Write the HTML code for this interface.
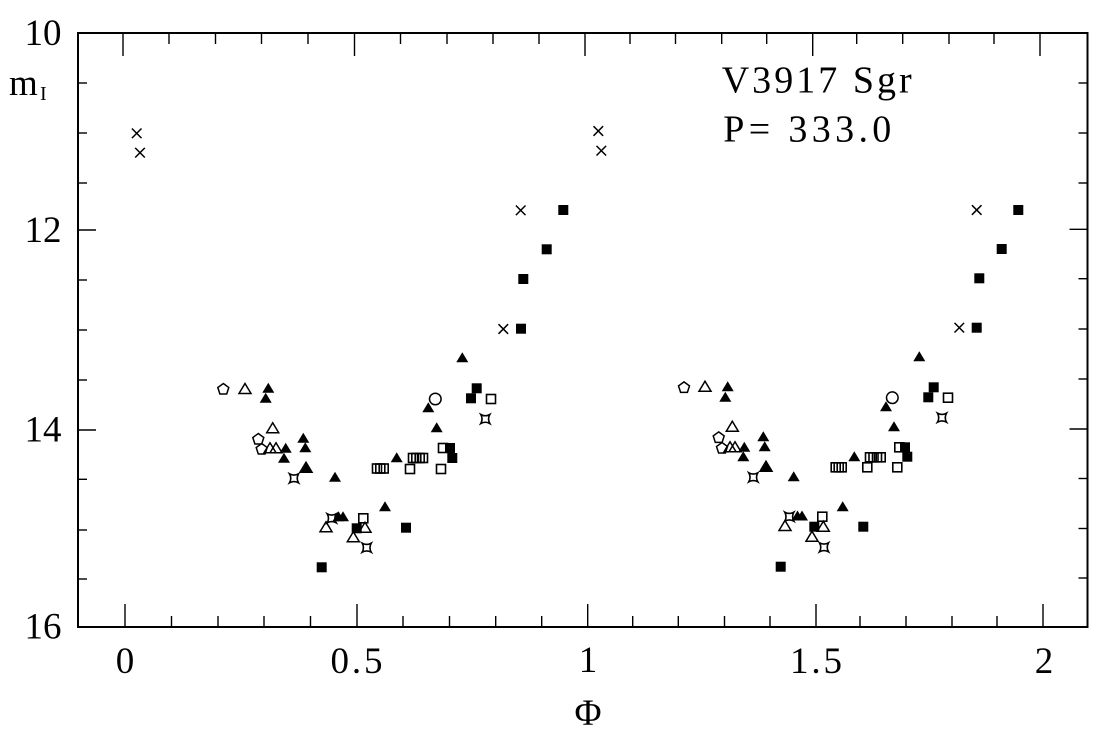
<!DOCTYPE html>
<html><head><meta charset="utf-8"><style>
html,body{margin:0;padding:0;background:#fff;}
svg{display:block;}
text{font-family:"Liberation Serif",serif;fill:#000;}
</style></head><body>
<svg width="1116" height="734" viewBox="0 0 1116 734" xmlns="http://www.w3.org/2000/svg">
<defs>
<polygon id="ft" points="0,-5.5 6,4.5 -6,4.5" fill="#000"/>
<polygon id="ot" points="0,-5.5 6,4.5 -6,4.5" fill="none" stroke="#000" stroke-width="1.5"/>
<rect id="fs" x="-5" y="-5" width="10" height="10" fill="#000"/>
<rect id="os" x="-4.5" y="-4.5" width="9" height="9" fill="none" stroke="#000" stroke-width="1.6"/>
<circle id="oc" r="5.8" fill="none" stroke="#000" stroke-width="1.5"/>
<polygon id="pg" points="0,-5.8 5.5,-1.8 3.4,4.7 -3.4,4.7 -5.5,-1.8" fill="none" stroke="#000" stroke-width="1.5"/>
<g id="xx" stroke="#000" stroke-width="1.5"><line x1="-4.8" y1="-4.8" x2="4.8" y2="4.8"/><line x1="-4.8" y1="4.8" x2="4.8" y2="-4.8"/></g>
<path id="st" d="M-4.5,-4.5 Q0,-2 4.5,-4.5 Q2,0 4.5,4.5 Q0,2 -4.5,4.5 Q-2,0 -4.5,-4.5 Z" fill="none" stroke="#000" stroke-width="1.6"/>
</defs>
<rect width="1116" height="734" fill="#fff"/>
<rect x="78" y="33" width="1009.5" height="594" fill="none" stroke="#000" stroke-width="2"/>
<g stroke="#000" stroke-width="1.4">
<line x1="125" y1="627" x2="125" y2="604"/>
<line x1="171.5" y1="627" x2="171.5" y2="616"/>
<line x1="218" y1="627" x2="218" y2="616"/>
<line x1="264" y1="627" x2="264" y2="616"/>
<line x1="310.5" y1="627" x2="310.5" y2="616"/>
<line x1="357" y1="627" x2="357" y2="604"/>
<line x1="403" y1="627" x2="403" y2="616"/>
<line x1="449.5" y1="627" x2="449.5" y2="616"/>
<line x1="495.7" y1="627" x2="495.7" y2="616"/>
<line x1="541.7" y1="627" x2="541.7" y2="616"/>
<line x1="587.7" y1="627" x2="587.7" y2="604"/>
<line x1="632.7" y1="627" x2="632.7" y2="616"/>
<line x1="678.3" y1="627" x2="678.3" y2="616"/>
<line x1="724.5" y1="627" x2="724.5" y2="616"/>
<line x1="770" y1="627" x2="770" y2="616"/>
<line x1="816" y1="627" x2="816" y2="604"/>
<line x1="860" y1="627" x2="860" y2="616"/>
<line x1="906" y1="627" x2="906" y2="616"/>
<line x1="952" y1="627" x2="952" y2="616"/>
<line x1="997" y1="627" x2="997" y2="616"/>
<line x1="1043" y1="627" x2="1043" y2="604"/>
<line x1="123" y1="33" x2="123" y2="56"/>
<line x1="169" y1="33" x2="169" y2="44"/>
<line x1="215.5" y1="33" x2="215.5" y2="44"/>
<line x1="261.5" y1="33" x2="261.5" y2="44"/>
<line x1="308" y1="33" x2="308" y2="44"/>
<line x1="354.5" y1="33" x2="354.5" y2="56"/>
<line x1="400.5" y1="33" x2="400.5" y2="44"/>
<line x1="447" y1="33" x2="447" y2="44"/>
<line x1="493" y1="33" x2="493" y2="44"/>
<line x1="539" y1="33" x2="539" y2="44"/>
<line x1="585" y1="33" x2="585" y2="56"/>
<line x1="630" y1="33" x2="630" y2="44"/>
<line x1="675.5" y1="33" x2="675.5" y2="44"/>
<line x1="721.7" y1="33" x2="721.7" y2="44"/>
<line x1="766.7" y1="33" x2="766.7" y2="44"/>
<line x1="812.7" y1="33" x2="812.7" y2="56"/>
<line x1="856.7" y1="33" x2="856.7" y2="44"/>
<line x1="902.7" y1="33" x2="902.7" y2="44"/>
<line x1="949" y1="33" x2="949" y2="44"/>
<line x1="994" y1="33" x2="994" y2="44"/>
<line x1="1040" y1="33" x2="1040" y2="56"/>
<line x1="78" y1="83" x2="87" y2="83"/>
<line x1="78" y1="133" x2="87" y2="133"/>
<line x1="78" y1="183" x2="87" y2="183"/>
<line x1="78" y1="230" x2="96" y2="230"/>
<line x1="78" y1="280" x2="87" y2="280"/>
<line x1="78" y1="330" x2="87" y2="330"/>
<line x1="78" y1="380" x2="87" y2="380"/>
<line x1="78" y1="430" x2="96" y2="430"/>
<line x1="78" y1="479.3" x2="87" y2="479.3"/>
<line x1="78" y1="530" x2="87" y2="530"/>
<line x1="78" y1="579" x2="87" y2="579"/>
<line x1="1087.5" y1="83" x2="1078.5" y2="83"/>
<line x1="1087.5" y1="133" x2="1078.5" y2="133"/>
<line x1="1087.5" y1="183" x2="1078.5" y2="183"/>
<line x1="1087.5" y1="229.3" x2="1069.5" y2="229.3"/>
<line x1="1087.5" y1="278.7" x2="1078.5" y2="278.7"/>
<line x1="1087.5" y1="329" x2="1078.5" y2="329"/>
<line x1="1087.5" y1="379" x2="1078.5" y2="379"/>
<line x1="1087.5" y1="429" x2="1069.5" y2="429"/>
<line x1="1087.5" y1="478.5" x2="1078.5" y2="478.5"/>
<line x1="1087.5" y1="528.5" x2="1078.5" y2="528.5"/>
<line x1="1087.5" y1="578" x2="1078.5" y2="578"/>
</g>
<g font-size="37" text-anchor="end">
<text x="61.5" y="45">10</text>
<text x="61.5" y="242">12</text>
<text x="61.5" y="441.7">14</text>
<text x="61.5" y="638.3">16</text>
</g>
<g font-size="37" text-anchor="middle">
<text x="125" y="673">0</text>
<text x="356.5" y="673" textLength="52" lengthAdjust="spacing">0.5</text>
<text x="588" y="672">1</text>
<text x="816" y="673" textLength="52" lengthAdjust="spacing">1.5</text>
<text x="1044" y="673">2</text>
<text x="588" y="725">Φ</text>
</g>
<text x="9" y="95" font-size="37">m</text>
<text x="40" y="100" font-size="20">I</text>
<text x="721.7" y="92.7" font-size="38" textLength="190" lengthAdjust="spacing">V3917 Sgr</text>
<text x="723.3" y="141.7" font-size="38" textLength="168" lengthAdjust="spacing">P= 333.0</text>
<use href="#xx" x="136.7" y="133.3"/>
<use href="#xx" x="140" y="152.7"/>
<use href="#xx" x="598.3" y="131"/>
<use href="#xx" x="601.3" y="150.7"/>
<use href="#xx" x="520.7" y="210.3"/>
<use href="#xx" x="503.3" y="329"/>
<use href="#xx" x="976.7" y="210"/>
<use href="#xx" x="959.3" y="327.7"/>
<use href="#fs" x="563.3" y="210"/>
<use href="#fs" x="546.7" y="249.3"/>
<use href="#fs" x="523.3" y="279"/>
<use href="#fs" x="521" y="328.7"/>
<use href="#fs" x="476.7" y="388.3"/>
<use href="#fs" x="471" y="398.3"/>
<use href="#fs" x="450" y="448"/>
<use href="#fs" x="452.3" y="458"/>
<use href="#fs" x="406" y="527.7"/>
<use href="#fs" x="356.7" y="528.3"/>
<use href="#fs" x="321.7" y="567.3"/>
<use href="#fs" x="1018.3" y="210"/>
<use href="#fs" x="1001.7" y="249"/>
<use href="#fs" x="979.3" y="278.3"/>
<use href="#fs" x="976.7" y="327.7"/>
<use href="#fs" x="933.7" y="387.3"/>
<use href="#fs" x="928.3" y="397.3"/>
<use href="#fs" x="905" y="447.3"/>
<use href="#fs" x="907.3" y="456.7"/>
<use href="#fs" x="863.3" y="526.7"/>
<use href="#fs" x="814.3" y="526.7"/>
<use href="#fs" x="780.7" y="566.7"/>
<use href="#ft" x="268.3" y="388.3"/>
<use href="#ft" x="265.7" y="398.3"/>
<use href="#ft" x="285.7" y="448.3"/>
<use href="#ft" x="284" y="458.3"/>
<use href="#ft" x="303.3" y="438.3"/>
<use href="#ft" x="305.3" y="447.7"/>
<use href="#ft" x="306.7" y="467.7"/>
<use href="#ft" x="335" y="477.3"/>
<use href="#ft" x="396.7" y="457.7"/>
<use href="#ft" x="428.3" y="407.7"/>
<use href="#ft" x="436.7" y="427.7"/>
<use href="#ft" x="462.3" y="357.7"/>
<use href="#ft" x="385" y="506.7"/>
<use href="#ft" x="338.5" y="516.7"/>
<use href="#ft" x="343" y="516.7"/>
<use href="#ft" x="727.7" y="386.7"/>
<use href="#ft" x="725.3" y="397.3"/>
<use href="#ft" x="744.3" y="447.3"/>
<use href="#ft" x="743.3" y="456.7"/>
<use href="#ft" x="763.3" y="436.7"/>
<use href="#ft" x="764.7" y="446.7"/>
<use href="#ft" x="766.7" y="466.7"/>
<use href="#ft" x="793.7" y="476.7"/>
<use href="#ft" x="854.3" y="456.7"/>
<use href="#ft" x="886" y="406.7"/>
<use href="#ft" x="894" y="426.7"/>
<use href="#ft" x="919.3" y="356.7"/>
<use href="#ft" x="842.7" y="506.7"/>
<use href="#ft" x="797.5" y="516"/>
<use href="#ft" x="802" y="516"/>
<use href="#ot" x="245" y="389"/>
<use href="#ot" x="272.7" y="428.3"/>
<use href="#ot" x="270" y="448.3"/>
<use href="#ot" x="276" y="448.3"/>
<use href="#ot" x="306" y="467.7"/>
<use href="#ot" x="326" y="527.3"/>
<use href="#ot" x="365" y="527.7"/>
<use href="#ot" x="353.3" y="537.3"/>
<use href="#ot" x="705" y="386.7"/>
<use href="#ot" x="732.3" y="426.7"/>
<use href="#ot" x="730" y="447.3"/>
<use href="#ot" x="735" y="447.3"/>
<use href="#ot" x="766" y="466.7"/>
<use href="#ot" x="785" y="526"/>
<use href="#ot" x="823.3" y="526.7"/>
<use href="#ot" x="812" y="536.7"/>
<use href="#os" x="363.3" y="518.3"/>
<use href="#os" x="410" y="469"/>
<use href="#os" x="441" y="469"/>
<use href="#os" x="491" y="399"/>
<use href="#os" x="443" y="448"/>
<use href="#os" x="377" y="468.5"/>
<use href="#os" x="380.3" y="468.5"/>
<use href="#os" x="383.7" y="468.5"/>
<use href="#os" x="413" y="458"/>
<use href="#os" x="416.3" y="458"/>
<use href="#os" x="419.7" y="458"/>
<use href="#os" x="423" y="458"/>
<use href="#os" x="822.3" y="516.7"/>
<use href="#os" x="867.3" y="467.3"/>
<use href="#os" x="897.3" y="467.3"/>
<use href="#os" x="948" y="397.7"/>
<use href="#os" x="899.3" y="447.3"/>
<use href="#os" x="835.7" y="467.3"/>
<use href="#os" x="838.7" y="467.3"/>
<use href="#os" x="841.7" y="467.3"/>
<use href="#os" x="870" y="457.3"/>
<use href="#os" x="873.5" y="457.3"/>
<use href="#os" x="877" y="457.3"/>
<use href="#os" x="880.7" y="457.3"/>
<use href="#oc" x="435.3" y="399"/>
<use href="#oc" x="892.3" y="397.7"/>
<use href="#pg" x="223.3" y="389.3"/>
<use href="#pg" x="258.3" y="439.3"/>
<use href="#pg" x="261.7" y="449.3"/>
<use href="#pg" x="684" y="387.7"/>
<use href="#pg" x="718.7" y="437.7"/>
<use href="#pg" x="722" y="448.3"/>
<use href="#st" x="294" y="478.3"/>
<use href="#st" x="331.7" y="518.3"/>
<use href="#st" x="366.7" y="547.7"/>
<use href="#st" x="485.3" y="419"/>
<use href="#st" x="753.3" y="477.3"/>
<use href="#st" x="789.3" y="516.7"/>
<use href="#st" x="824" y="547.3"/>
<use href="#st" x="942" y="417.7"/>
</svg>
</body></html>
